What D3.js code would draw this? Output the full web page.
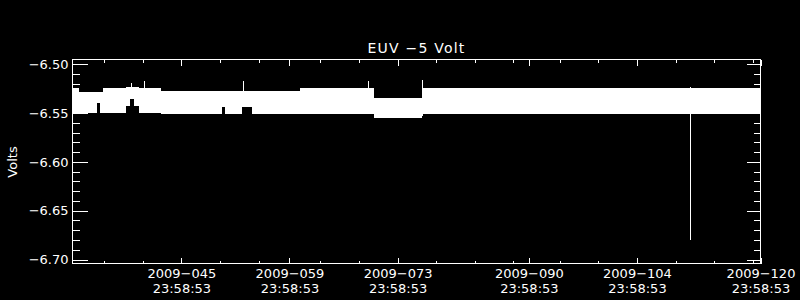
<!DOCTYPE html>
<html>
<head>
<meta charset="utf-8">
<script src="https://cdn.jsdelivr.net/npm/d3@7"></script>
<style>
  body { margin: 0; background: #000; }
  svg { display: block; background: #000; }
  text { fill: #fff; font-family: "DejaVu Sans", sans-serif; }
</style>
</head>
<body>
<svg width="800" height="300"></svg>
<script>
// tick positions in day-of-year 2009
var majorDays = [45, 59, 73, 90, 104, 120];
var majorDates = ["2009-045", "2009-059", "2009-073", "2009-090", "2009-104", "2009-120"];
var majorTime = "23:58:53";
var minorDays = [35, 40, 50, 55, 63, 68, 78, 83, 88, 94, 99, 109, 114, 119];

var yMajor = [-6.70, -6.65, -6.60, -6.55, -6.50];
var yMinor = [-6.69, -6.68, -6.67, -6.66, -6.64, -6.63, -6.62, -6.61, -6.59, -6.58, -6.57, -6.56,
  -6.54, -6.53, -6.52, -6.51];

// envelope of the dense voltage trace (step after each day value)
var bandDay = [30.9, 31.7, 34.1, 34.4, 34.9, 37.8, 38.3, 38.9, 39.5, 42.3, 50.3, 50.7, 52.9, 54.2, 60.4, 70.0, 76.2, 120];
var bandHi = [-6.5246, -6.528, -6.528, -6.528, -6.5246, -6.5236, -6.5226, -6.5236, -6.5246, -6.5267, -6.5267,
  -6.5267, -6.5267, -6.5267, -6.5246, -6.5344, -6.5246, -6.5246];
var bandLo = [-6.5513, -6.5497, -6.540, -6.5497, -6.5497, -6.5425, -6.535, -6.543, -6.5497, -6.5503, -6.5441,
  -6.5503, -6.5441, -6.5503, -6.5503, -6.5544, -6.5503, -6.5503];

// isolated spikes
var spikeDay = [38.54, 40.22, 53.04, 69.17, 76.19, 110.97];
var spikeHi = [-6.5195, -6.5174, -6.5174, -6.5174, -6.5164, -6.5226];
var spikeLo = [-6.535, -6.535, -6.535, -6.540, -6.553, -6.6795];

var margin = { top: 59, right: 40, bottom: 37, left: 72 },
  width = 800 - margin.left - margin.right,
  height = 300 - margin.top - margin.bottom;

var svg = d3.select("svg")
  .append("g")
  .attr("transform", "translate(" + (margin.left + 0.5) + "," + (margin.top + 0.5) + ")");

var x = d3.scaleLinear().domain([30.9, 120]).range([0, width]);
var y = d3.scaleLinear().domain([-6.7041, -6.4949]).range([height, 0]);

// data
var idx = d3.range(bandDay.length);
svg.append("path")
  .datum(idx)
  .attr("fill", "#fff")
  .attr("shape-rendering", "crispEdges")
  .attr("d", d3.area()
    .curve(d3.curveStepAfter)
    .x(function(i) { return x(bandDay[i]); })
    .y0(function(i) { return y(bandLo[i]); })
    .y1(function(i) { return y(bandHi[i]); }));

svg.selectAll(".spike")
  .data(d3.range(spikeDay.length))
  .enter().append("line")
  .attr("class", "spike")
  .attr("stroke", "#fff")
  .attr("shape-rendering", "crispEdges")
  .attr("x1", function(i) { return Math.round(x(spikeDay[i])); })
  .attr("x2", function(i) { return Math.round(x(spikeDay[i])); })
  .attr("y1", function(i) { return y(spikeHi[i]); })
  .attr("y2", function(i) { return y(spikeLo[i]); });

// box
svg.append("rect")
  .attr("width", width)
  .attr("height", height)
  .attr("fill", "none")
  .attr("stroke", "#fff")
  .attr("shape-rendering", "crispEdges");

function styleAxis(g) {
  g.attr("color", "#fff")
    .attr("font-family", "DejaVu Sans, sans-serif")
    .attr("font-size", 13)
    .attr("shape-rendering", "crispEdges");
  g.select(".domain").remove();
}

// y axes
svg.append("g").call(d3.axisLeft(y).tickValues(yMajor).tickSize(-15).tickPadding(4)
  .tickFormat(function(d) { return d3.format(".2f")(d).replace("-", "\u2212"); }))
  .call(styleAxis);
svg.append("g").call(d3.axisLeft(y).tickValues(yMinor).tickSize(-7).tickFormat(""))
  .call(styleAxis);
svg.append("g").attr("transform", "translate(" + width + ",0)")
  .call(d3.axisRight(y).tickValues(yMajor).tickSize(-14).tickFormat(""))
  .call(styleAxis);
svg.append("g").attr("transform", "translate(" + width + ",0)")
  .call(d3.axisRight(y).tickValues(yMinor).tickSize(-7).tickFormat(""))
  .call(styleAxis);

// x axes
var xb = svg.append("g").attr("transform", "translate(0," + height + ")")
  .call(d3.axisBottom(x).tickValues(majorDays).tickSize(-6).tickFormat(""))
  .call(styleAxis);
svg.append("g").attr("transform", "translate(0," + height + ")")
  .call(d3.axisBottom(x).tickValues(minorDays).tickSize(-3).tickFormat(""))
  .call(styleAxis);
svg.append("g")
  .call(d3.axisTop(x).tickValues(majorDays).tickSize(-6).tickFormat(""))
  .call(styleAxis);
svg.append("g")
  .call(d3.axisTop(x).tickValues(minorDays).tickSize(-3).tickFormat(""))
  .call(styleAxis);

xb.selectAll(".tick").each(function(d, i) {
  var t = d3.select(this).append("text")
    .attr("text-anchor", "middle")
    .attr("fill", "#fff");
  t.append("tspan").attr("x", 0).attr("y", 14.5).text(majorDates[i].replace("-", "\u2212"));
  t.append("tspan").attr("x", 0).attr("y", 29.5).text(majorTime);
});

// title and label
svg.append("text")
  .attr("x", width / 2)
  .attr("y", -6.5)
  .attr("text-anchor", "middle")
  .style("font-size", "14px")
  .style("letter-spacing", "1.2px")
  .text("EUV \u22125 Volt");

d3.select("svg").append("text")
  .attr("transform", "translate(16.5,162) rotate(-90)")
  .attr("text-anchor", "middle")
  .style("font-size", "13px")
  .text("Volts");
</script>
</body>
</html>
